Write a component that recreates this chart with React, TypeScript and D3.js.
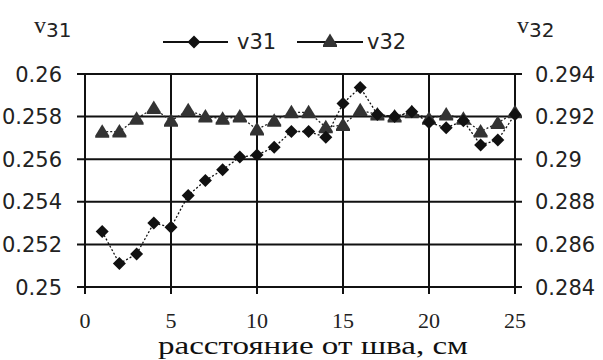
import React from "react";
import * as d3 from "d3";

const distances = [1,2,3,4,5,6,7,8,9,10,11,12,13,14,15,16,17,18,19,20,21,22,23,24,25];
const v31 = [0.2526,0.2511,0.25155,0.2530,0.2528,0.2543,0.2550,0.2555,0.2561,0.2562,0.25656,0.2573,0.2573,0.25703,0.25862,0.25937,0.2581,0.2580,0.25823,0.25772,0.25748,0.2578,0.25667,0.2569,0.2581];
const v32 = [0.29129,0.2913,0.2919,0.2924,0.2918,0.2923,0.2920,0.2919,0.2920,0.2914,0.2918,0.2922,0.2922,0.2915,0.2916,0.2923,0.2921,0.2920,0.2922,0.2919,0.2921,0.2919,0.2913,0.2917,0.2922];
const xTicks = [0,5,10,15,20,25];
const leftTicks = [0.25,0.252,0.254,0.256,0.258,0.26];
const rightTicks = [0.284,0.286,0.288,0.29,0.292,0.294];
const leftLabels = ["0.25","0.252","0.254","0.256","0.258","0.26"];
const rightLabels = ["0.284","0.286","0.288","0.29","0.292","0.294"];

const W = 603, H = 360;
const L = 85, R = 515, T = 74, B = 287;

export default function App() {
  const x = d3.scaleLinear().domain([0, 25]).range([L, R]);
  const yl = d3.scaleLinear().domain([0.25, 0.26]).range([B, T]);
  const yr = d3.scaleLinear().domain([0.284, 0.294]).range([B, T]);
  const line1 = d3.line<number>().x((_, i) => x(distances[i])).y(d => yl(d));
  const line2 = d3.line<number>().x((_, i) => x(distances[i])).y(d => yr(d));
  const diamond = (cx: number, cy: number, s = 6.5) =>
    `M${cx},${cy - s}L${cx + s},${cy}L${cx},${cy + s}L${cx - s},${cy}Z`;
  const tri = (cx: number, cy: number) =>
    `M${cx},${cy - 7.5}L${cx + 7},${cy + 4}L${cx + 7},${cy + 6}L${cx - 7},${cy + 6}L${cx - 7},${cy + 4}Z`;
  const sans = "DejaVu Sans, sans-serif";
  const serif = "Liberation Serif, Times New Roman, serif";
  return (
    <svg width={W} height={H} style={{ position: "absolute", left: 0, top: 0, background: "#fff" }}>
      <rect x={0} y={0} width={W} height={H} fill="#fff" />
      {leftTicks.map((t, i) => (
        <line key={"h" + i} x1={L - 8} x2={R + 7} y1={yl(t)} y2={yl(t)} stroke="#111" strokeWidth={2} />
      ))}
      {xTicks.map((t, i) => (
        <line key={"v" + i} x1={x(t)} x2={x(t)} y1={T} y2={B + 7} stroke="#111" strokeWidth={2} />
      ))}
      {leftTicks.map((t, i) => (
        <text key={"ll" + i} x={62} y={yl(t)} dy="0.36em" textAnchor="end" fontFamily={sans} fontSize={21} fill="#222">{leftLabels[i]}</text>
      ))}
      {rightTicks.map((t, i) => (
        <text key={"rl" + i} x={535} y={yr(t)} dy="0.36em" textAnchor="start" fontFamily={sans} fontSize={21} fill="#222">{rightLabels[i]}</text>
      ))}
      {xTicks.map((t, i) => (
        <text key={"xl" + i} x={x(t)} y={328} textAnchor="middle" fontFamily={serif} fontSize={22} fill="#222">{t}</text>
      ))}
      <text x={313} y={354} textAnchor="middle" fontFamily={serif} fontSize={25} textLength={310} lengthAdjust="spacingAndGlyphs" fill="#111">расстояние от шва, см</text>
      <text x={34} y={33} fontFamily={sans} fontSize={20} fill="#222">
        <tspan fontFamily={serif} fontSize={24}>v</tspan><tspan dy={4}>31</tspan>
      </text>
      <text x={517} y={33} fontFamily={sans} fontSize={20} fill="#222">
        <tspan fontFamily={serif} fontSize={24}>v</tspan><tspan dy={4}>32</tspan>
      </text>
      <path d={line2(v32) || ""} fill="none" stroke="#222" strokeWidth={1.3} strokeDasharray="2,2" />
      <path d={line1(v31) || ""} fill="none" stroke="#111" strokeWidth={1.3} strokeDasharray="2,2" />
      {v32.map((d, i) => (
        <path key={"t" + i} d={tri(x(distances[i]), yr(d))} fill="#333" />
      ))}
      {v31.map((d, i) => (
        <path key={"d" + i} d={diamond(x(distances[i]), yl(d))} fill="#111" />
      ))}
      <line x1={163} x2={228} y1={42} y2={42} stroke="#111" strokeWidth={2} />
      <path d={diamond(194, 42)} fill="#111" />
      <text x={237} y={49} fontFamily={sans} fontSize={21} fill="#222">v31</text>
      <line x1={297} x2={363} y1={42} y2={42} stroke="#111" strokeWidth={2} />
      <path d={tri(330, 41)} fill="#333" />
      <text x={367} y={49} fontFamily={sans} fontSize={21} fill="#222">v32</text>
    </svg>
  );
}
